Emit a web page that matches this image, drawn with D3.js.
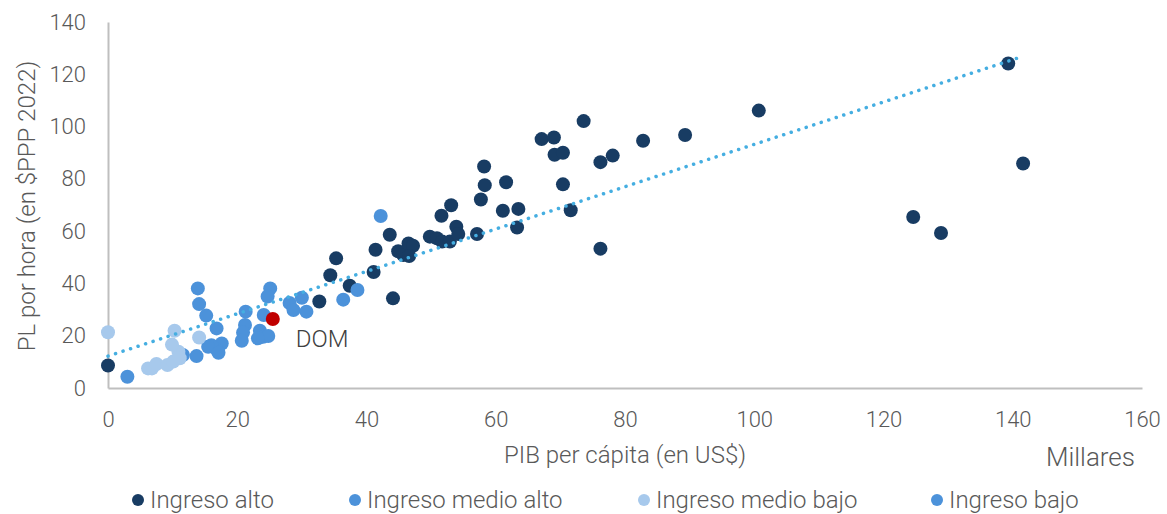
<!DOCTYPE html>
<html lang="es">
<head>
  <meta charset="UTF-8">
  <title>PL por hora vs PIB per cápita</title>
  <script src="https://d3js.org/d3.v7.min.js"></script>
  <style>
    body { margin: 0; background: #fff; }
    svg { display: block; font-family: Roboto, "Noto Sans", sans-serif; }
  </style>
</head>
<body>
  <svg width="1167" height="514"></svg>

  <script>
    // [PIB per cápita (miles US$), PL por hora ($PPP 2022)]
    const ingresoAlto = [
      [0.0, 8.6], [32.7, 33.1], [34.4, 43.1], [35.3, 49.6], [37.4, 39.1], [43.6, 58.6],
      [41.1, 44.4], [41.4, 52.9], [44.1, 34.3], [44.9, 52.3], [45.7, 50.9], [46.5, 55.3],
      [47.2, 54.4], [46.6, 50.5], [49.8, 57.9], [50.9, 57.3], [51.7, 56.0], [52.9, 56.0],
      [51.6, 65.9], [53.1, 69.9], [53.9, 61.7], [54.2, 58.9], [57.1, 58.9], [57.7, 72.1],
      [58.2, 84.7], [58.3, 77.6], [61.1, 67.8], [61.6, 78.7], [63.3, 61.4], [63.5, 68.5],
      [67.1, 95.2], [69.0, 95.8], [69.1, 89.2], [70.4, 90.0], [70.4, 77.9], [71.6, 68.0],
      [73.6, 102.1], [76.2, 53.3], [76.2, 86.4], [78.1, 88.9], [82.8, 94.6], [89.3, 96.8],
      [100.7, 106.1], [124.6, 65.4], [128.9, 59.3], [139.3, 124.1], [141.6, 85.9]
    ];
    const ingresoMedioAlto = [
      [42.2, 65.8], [38.6, 37.5], [36.4, 33.8], [25.1, 38.1], [24.7, 35.0], [28.1, 32.5],
      [30.0, 34.5], [28.7, 29.8], [30.7, 29.2], [24.1, 27.9], [21.3, 29.2], [21.2, 24.1],
      [20.9, 21.2], [20.7, 18.1], [23.5, 21.9], [24.0, 19.6], [24.8, 19.9], [23.2, 19.0],
      [13.9, 38.1], [14.1, 32.1], [15.2, 27.7], [16.8, 22.8], [17.6, 17.0], [16.9, 14.5],
      [16.0, 16.4], [15.5, 15.8], [17.1, 13.5], [11.6, 12.6]
    ];
    const ingresoMedioBajo = [
      [0.0, 21.3], [6.2, 7.5], [6.8, 7.5], [7.5, 9.2], [9.2, 8.8], [10.1, 10.1],
      [10.9, 13.9], [11.1, 11.4], [9.9, 16.6], [10.3, 21.9], [14.1, 19.3]
    ];
    const ingresoBajo = [[3.0, 4.3], [13.7, 12.2]];
    const dom = [[25.5, 26.4]];

    // línea de tendencia lineal
    const trendIntercept = 12.2;
    const trendSlope = 0.81;

    const xTicks = [0, 20, 40, 60, 80, 100, 120, 140, 160];
    const yTicks = [0, 20, 40, 60, 80, 100, 120, 140];

    const series = [
      {name: 'Ingreso alto', data: ingresoAlto, color: '#183c63'},
      {name: 'Ingreso medio alto', data: ingresoMedioAlto, color: '#4c92da'},
      {name: 'Ingreso medio bajo', data: ingresoMedioBajo, color: '#a7c9ec'},
      {name: 'Ingreso bajo', data: ingresoBajo, color: '#4c92da'},
    ];

    const svg = d3.select('svg');
    const x = d3.scaleLinear().domain([0, 160]).range([108, 1142]);
    const y = d3.scaleLinear().domain([0, 140]).range([388, 22]);
    const textColor = '#595959';

    // ejes
    const xAxis = svg.append('g')
      .attr('transform', `translate(0, ${y(0)})`)
      .call(d3.axisBottom(x).tickValues(xTicks).tickSize(0).tickPadding(23));
    const yAxis = svg.append('g')
      .attr('transform', `translate(${x(0)}, 0)`)
      .call(d3.axisLeft(y).tickValues(yTicks).tickSize(0).tickPadding(22));

    [xAxis, yAxis].forEach(g => {
      g.select('.domain').attr('stroke', '#bfbfbf').attr('stroke-width', 2);
      g.selectAll('text')
        .attr('fill', textColor)
        .style('font-size', '22px')
        .style('font-weight', 300)
        .style('font-family', 'Roboto, sans-serif');
    });

    // puntos
    series.forEach(s => {
      svg.append('g').selectAll('circle')
        .data(s.data)
        .join('circle')
        .attr('cx', d => x(d[0]))
        .attr('cy', d => y(d[1]))
        .attr('r', 7)
        .attr('fill', s.color);
    });

    svg.append('g').selectAll('circle')
      .data(dom)
      .join('circle')
      .attr('cx', d => x(d[0]))
      .attr('cy', d => y(d[1]))
      .attr('r', 7)
      .attr('fill', '#c00000');

    svg.append('text')
      .attr('x', x(dom[0][0]) + 23)
      .attr('y', y(dom[0][1]) + 20)
      .attr('dy', '0.35em')
      .attr('fill', '#404040')
      .style('font-size', '24px')
      .style('font-weight', 300)
      .text('DOM');

    // tendencia
    const allX = series.flatMap(s => s.data.map(d => d[0])).concat(dom.map(d => d[0]));
    const xExtent = d3.extent(allX);
    svg.append('line')
      .attr('x1', x(xExtent[0]))
      .attr('y1', y(trendIntercept + trendSlope * xExtent[0]))
      .attr('x2', x(xExtent[1]))
      .attr('y2', y(trendIntercept + trendSlope * xExtent[1]))
      .attr('stroke', '#45aee1')
      .attr('stroke-width', 3.5)
      .attr('stroke-linecap', 'round')
      .attr('stroke-dasharray', '0.1 7.8');

    // títulos
    svg.append('text')
      .attr('x', 625)
      .attr('y', 463)
      .attr('text-anchor', 'middle')
      .attr('fill', textColor)
      .style('font-size', '24px')
      .style('font-weight', 300)
      .text('PIB per cápita (en US$)');

    svg.append('text')
      .attr('transform', 'translate(27, 206) rotate(-90)')
      .attr('dy', '0.35em')
      .attr('text-anchor', 'middle')
      .attr('fill', textColor)
      .style('font-size', '24px')
      .style('font-weight', 300)
      .text('PL por hora (en $PPP 2022)');

    svg.append('text')
      .attr('x', 1135)
      .attr('y', 466)
      .attr('text-anchor', 'end')
      .attr('fill', textColor)
      .style('font-size', '26px')
      .style('font-weight', 300)
      .text('Millares');

    // leyenda
    const legendX = [138, 355, 644, 937];
    const legend = svg.append('g')
      .selectAll('g')
      .data(series)
      .join('g')
      .attr('transform', (d, i) => `translate(${legendX[i]}, 500)`);
    legend.append('circle')
      .attr('r', 6)
      .attr('fill', d => d.color);
    legend.append('text')
      .attr('x', 12)
      .attr('dy', '0.35em')
      .attr('fill', textColor)
      .style('font-size', '24px')
      .style('font-weight', 300)
      .text(d => d.name);
  </script>
</body>
</html>
